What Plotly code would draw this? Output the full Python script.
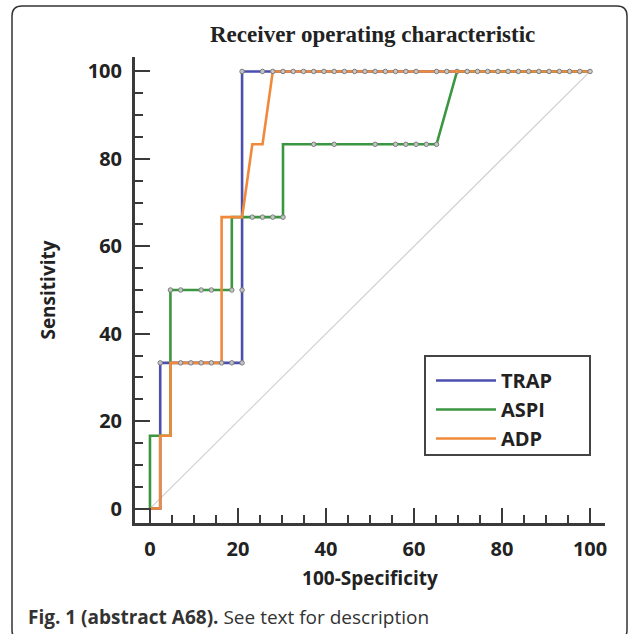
import plotly.graph_objects as go

# ROC curve vertices (100-Specificity, Sensitivity)
trap_x = [0, 2.33, 2.33, 20.93, 20.93, 100]
trap_y = [0, 0, 33.33, 33.33, 100, 100]
aspi_x = [0, 0, 4.65, 4.65, 18.60, 18.60, 30.23, 30.23, 65.12, 69.77, 100]
aspi_y = [0, 16.67, 16.67, 50, 50, 66.67, 66.67, 83.33, 83.33, 100, 100]
adp_x = [0, 2.33, 2.33, 4.65, 4.65, 16.28, 16.28, 20.93, 23.26, 25.58, 27.91, 100]
adp_y = [0, 0, 16.67, 16.67, 33.33, 33.33, 66.67, 66.67, 83.33, 83.33, 100, 100]

# criterion points (markers)
trap_mx = [2.33, 18.60, 20.93, 20.93, 20.93, 25.58]
trap_my = [33.33, 33.33, 33.33, 50, 100, 100]
aspi_mx = [4.65, 6.98, 11.63, 13.95, 18.60, 23.26, 25.58, 27.91, 30.23, 37.21, 41.86,
           51.16, 55.81, 58.14, 60.47, 62.79, 65.12, 69.77]
aspi_my = [50, 50, 50, 50, 50, 66.67, 66.67, 66.67, 66.67, 83.33, 83.33,
           83.33, 83.33, 83.33, 83.33, 83.33, 83.33, 100]
adp_mx = [6.98, 9.30, 11.63, 13.95, 16.28,
          27.91, 30.23, 32.56, 34.88, 37.21, 39.53, 41.86, 44.19, 46.51, 48.84, 51.16,
          53.49, 55.81, 58.14, 60.47, 65.12, 67.44, 72.09, 74.42, 76.74, 79.07,
          81.40, 83.72, 86.05, 88.37, 90.70, 93.02, 95.35, 97.67, 100]
adp_my = [33.33] * 5 + [100] * 30

diag_x = [0, 100]
diag_y = [0, 100]

x_ticks = [0, 20, 40, 60, 80, 100]
y_ticks = [0, 20, 40, 60, 80, 100]

C_TRAP = "#4b4fae"
C_ASPI = "#3a9640"
C_ADP = "#f0893a"
AX = "#3a3a3a"

fig = go.Figure()
fig.add_trace(go.Scatter(x=diag_x, y=diag_y, mode="lines",
                         line=dict(color="#cfcfcf", width=1.2), showlegend=False, hoverinfo="skip"))
for name, xs, ys, mx, my, col in [
    ("TRAP", trap_x, trap_y, trap_mx, trap_my, C_TRAP),
    ("ASPI", aspi_x, aspi_y, aspi_mx, aspi_my, C_ASPI),
    ("ADP", adp_x, adp_y, adp_mx, adp_my, C_ADP),
]:
    fig.add_trace(go.Scatter(x=xs, y=ys, mode="lines", name=name,
                             line=dict(color=col, width=2.6)))
    fig.add_trace(go.Scatter(x=mx, y=my, mode="markers", showlegend=False,
                             marker=dict(size=4.5, color="rgba(205,205,205,0.9)",
                                         line=dict(color="#7a7a7a", width=1))))

tickfont = dict(family="Open Sans", size=20, color="#222", weight="bold")
titlefont = dict(family="Open Sans", size=19, color="#222", weight="bold")
common = dict(showline=True, linecolor=AX, linewidth=3, ticks="inside", ticklen=15,
              tickwidth=2, tickcolor=AX, showgrid=False, zeroline=False,
              tickfont=tickfont, tickmode="array",
              minor=dict(ticks="inside", ticklen=8, tickwidth=2, tickcolor=AX, dtick=5, tick0=0))
fig.update_xaxes(range=[-3.4, 103.4], tickvals=x_ticks, ticklabelstandoff=6,
                 title=dict(text="100-Specificity", font=titlefont, standoff=11), **common)
fig.update_yaxes(range=[-3.3, 103.3], tickvals=y_ticks, ticklabelstandoff=6,
                 title=dict(text="Sensitivity", font=titlefont, standoff=28), **common)

# outer rounded frame (pixel -> paper conversion)
L, T, W, H = 135, 57, 470, 466
def px(x): return (x - L) / W
def py(y): return (T + H - y) / H
r = 10
x0, x1, y0, y1 = 12, 627, 6, 640
path = (f"M {px(x0)},{py(y0 + r)} Q {px(x0)},{py(y0)} {px(x0 + r)},{py(y0)} "
        f"L {px(x1 - r)},{py(y0)} Q {px(x1)},{py(y0)} {px(x1)},{py(y0 + r)} "
        f"L {px(x1)},{py(y1 - r)} Q {px(x1)},{py(y1)} {px(x1 - r)},{py(y1)} "
        f"L {px(x0 + r)},{py(y1)} Q {px(x0)},{py(y1)} {px(x0)},{py(y1 - r)} Z")
fig.add_shape(type="path", path=path, xref="paper", yref="paper",
              line=dict(color="#333", width=1.5))
# legend box
fig.add_shape(type="rect", xref="paper", yref="paper",
              x0=px(425), x1=px(590), y0=py(455), y1=py(356),
              line=dict(color="#444", width=2), fillcolor="white", layer="below")

fig.add_annotation(text="<b>Receiver operating characteristic</b>", xref="paper", yref="paper",
                   x=px(372), y=py(35), showarrow=False, xanchor="center", yanchor="middle",
                   font=dict(family="Liberation Serif", size=23, color="#222"))
fig.add_annotation(text="<b>Fig. 1 (abstract A68).</b> See text for description",
                   xref="paper", yref="paper", x=px(26), y=py(617), showarrow=False,
                   xanchor="left", yanchor="middle",
                   font=dict(family="Open Sans", size=19, color="#333"))

fig.update_layout(
    width=634, height=634, paper_bgcolor="white", plot_bgcolor="rgba(0,0,0,0)",
    margin=dict(l=L, r=634 - L - W, t=T, b=634 - T - H),
    legend=dict(x=px(431), y=py(361), xanchor="left", yanchor="top",
                bgcolor="rgba(0,0,0,0)", borderwidth=0, itemwidth=60,
                font=dict(family="Open Sans", size=20, color="#222", weight="bold")),
)
fig.write_html("out.html", config={"displayModeBar": False},
               post_script="document.body.style.margin='0px';")
